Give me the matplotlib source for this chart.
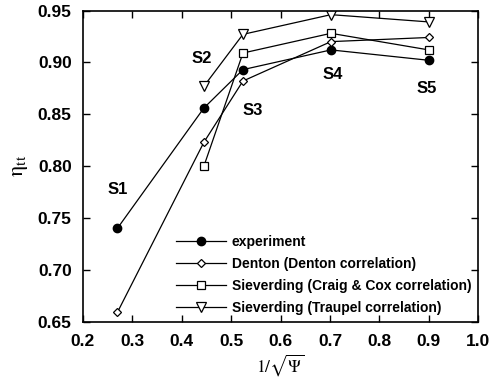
import matplotlib
matplotlib.use("Agg")
import matplotlib.pyplot as plt

plt.rcParams['font.family'] = ['Liberation Sans', 'DejaVu Sans']
plt.rcParams['mathtext.fontset'] = 'stix'

# stage positions and efficiencies
stages = ['S1', 'S2', 'S3', 'S4', 'S5']
x_stage = [0.27, 0.445, 0.524, 0.702, 0.90]

eta_exp = [0.740, 0.856, 0.893, 0.912, 0.902]
eta_denton = [0.659, 0.823, 0.882, 0.920, 0.924]
x_siev = [0.445, 0.524, 0.702, 0.90]
eta_craig_cox = [0.800, 0.909, 0.928, 0.912]
eta_traupel = [0.877, 0.927, 0.946, 0.939]

# label placement for the stage names
label_xy = [(0.27, 0.777), (0.44, 0.904), (0.544, 0.854), (0.706, 0.888), (0.896, 0.875)]

fig = plt.figure(figsize=(4.93, 3.82), dpi=100)
ax = fig.add_axes([0.168, 0.158, 0.802, 0.8145])

ax.plot(x_stage, eta_exp, '-', color='k', lw=0.9, marker='o', ms=6,
        mfc='k', label='experiment')
ax.plot(x_stage, eta_denton, '-', color='k', lw=0.9, marker='D', ms=4,
        mfc='white', mew=0.9, label='Denton (Denton correlation)')
ax.plot(x_siev, eta_craig_cox, '-', color='k', lw=0.9, marker='s', ms=6,
        mfc='white', mew=0.9, label='Sieverding (Craig & Cox correlation)')
ax.plot(x_siev, eta_traupel, '-', color='k', lw=0.9, marker='v', ms=7,
        mfc='white', mew=0.9, label='Sieverding (Traupel correlation)')

for s, (lx, ly) in zip(stages, label_xy):
    ax.text(lx, ly, s, ha='center', va='center', fontsize=12, fontweight='bold')

ax.set_xlim(0.2, 1.0)
ax.set_ylim(0.65, 0.95)
ax.set_xticks([0.2, 0.3, 0.4, 0.5, 0.6, 0.7, 0.8, 0.9, 1.0])
ax.set_yticks([0.65, 0.70, 0.75, 0.80, 0.85, 0.90, 0.95])
ax.set_xticklabels(['0.2', '0.3', '0.4', '0.5', '0.6', '0.7', '0.8', '0.9', '1.0'])
ax.set_yticklabels(['0.65', '0.70', '0.75', '0.80', '0.85', '0.90', '0.95'])
ax.tick_params(direction='in', top=True, right=True, length=5, width=1,
               labelsize=12.5)
ax.tick_params(axis='x', pad=9)
ax.tick_params(axis='y', pad=8)
for lab in ax.get_xticklabels() + ax.get_yticklabels():
    lab.set_fontweight('bold')
for sp in ax.spines.values():
    sp.set_linewidth(1.2)

ax.set_xlabel(r'$1/\sqrt{\Psi}$', fontsize=12.5, labelpad=2)
ax.set_ylabel(r'$\mathrm{\eta_{tt}}$', fontsize=16, labelpad=6)

leg = ax.legend(loc='lower right', frameon=False, fontsize=10, handlelength=3.6,
                borderaxespad=0.1, labelspacing=0.58, handletextpad=0.4,
                bbox_to_anchor=(1.0, 0.0))
for t in leg.get_texts():
    t.set_fontweight('bold')

fig.savefig('out.png', dpi=100)
